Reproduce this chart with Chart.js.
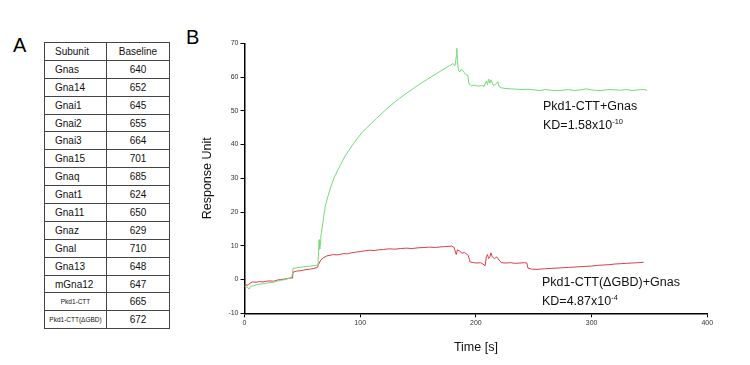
<!DOCTYPE html>
<html>
<head>
<meta charset="utf-8">
<script src="https://cdn.jsdelivr.net/npm/chart.js@4.4.1/dist/chart.umd.min.js"></script>
<style>
  html, body { margin:0; padding:0; background:#fff; }
  body { width:750px; height:365px; position:relative; overflow:hidden; font-family:"Liberation Sans", Arial, sans-serif; }
  #wrap { position:absolute; left:0; top:0; width:750px; height:365px; }
  .panel { position:absolute; font-size:20px; color:#000; }
  table { position:absolute; left:44px; top:42px; border-collapse:collapse; font-size:10px; color:#111; }
  td { border:1px solid #444; height:16.9px; padding:0; }
  td.s { width:51px; padding-left:10px; text-align:left; }
  td.v { width:62px; text-align:center; }
  td.sm { font-size:6.5px; text-align:center; padding-left:0; width:61px; }
  .ann { position:absolute; font-size:12.5px; color:#111; line-height:16px; white-space:nowrap; }
  .ann sup { font-size:7.5px; vertical-align:5px; }
</style>
</head>
<body>
<div class="panel" style="left:13px;top:34px;">A</div>
<div class="panel" style="left:186px;top:26px;">B</div>
<table id="tbl"></table>
<div id="wrap"><canvas id="c" width="750" height="365"></canvas></div>
<div class="ann" style="left:543px;top:98px;">Pkd1-CTT+Gnas<br>KD=1.58x10<sup>-10</sup></div>
<div class="ann" style="left:542px;top:274px;">Pkd1-CTT(ΔGBD)+Gnas<br>KD=4.87x10<sup>-4</sup></div>
<script>
const tableHeader = ["Subunit", "Baseline"];
const subunits = ["Gnas","Gna14","Gnai1","Gnai2","Gnai3","Gna15","Gnaq","Gnat1","Gna11","Gnaz","Gnal","Gna13","mGna12","Pkd1-CTT","Pkd1-CTT(ΔGBD)"];
const baselines = [640,652,645,655,664,701,685,624,650,629,710,648,647,665,672];

const xTicks = [0,100,200,300,400];
const yTicks = [-10,0,10,20,30,40,50,60,70];

const greenTime = [0,2,4,5,8,11,14,17,20,23,26,29,32,35,38,40,41,42,45,48,51,54,57,60,62,63.5,64,64.5,65,65.5,66,67,68,69,70,72,74,77,80,83,86,90,94,98,102,106,110,114,118,122,126,130,134,138,142,146,150,154,158,162,166,170,174,178,180,182,183,183.5,184,185,186,187,189,191,193,194,196,199,202,205,207,209,210,211,212,213,215,217,219,220,222,226,230,235,240,245,250,255,260,265,270,275,280,285,290,295,300,305,310,315,320,325,330,335,340,345,348];
const greenValues = [-2.0,-2.2,-2.8,-2.0,-1.8,-1.5,-1.3,-1.2,-1.0,-0.9,-0.7,-0.4,-0.2,0.0,0.3,0.5,0.8,3.3,3.5,3.6,3.8,3.9,4.0,4.1,4.2,4.4,8.0,11.8,9.0,11.0,13.0,15.0,17.5,20.0,22.0,24.5,26.8,29.8,32.0,34.0,36.0,38.2,40.2,42.0,43.7,45.1,46.4,47.7,49.0,50.3,51.5,52.6,53.7,54.7,55.7,56.6,57.6,58.5,59.3,60.2,61.0,61.9,62.7,63.5,64.0,63.4,66.0,68.5,65.0,62.0,61.5,62.2,61.8,60.8,60.5,58.0,57.4,57.6,57.3,57.5,57.2,58.8,57.8,59.4,58.2,59.2,57.6,57.8,58.6,57.2,56.8,56.6,56.5,56.4,56.3,56.4,56.2,56.0,56.3,56.1,56.0,56.1,56.3,56.0,56.2,56.5,56.2,56.0,56.1,56.3,56.2,56.1,56.3,56.0,56.2,56.3,56.1];

const redTime = [0,3,5,7,10,13,16,19,22,25,28,31,34,37,40,41.5,42,45,48,51,54,57,60,63,64,66,68,71,74,77,80,83,86,89,92,96,100,104,108,112,116,120,125,130,135,140,145,150,155,160,165,170,175,179,181,183,184,186,188,190,192,193.5,195,198,201,204,206,208,209,210,211,212,213,214,216,218,220,222,226,230,234,238,242,244,245,248,252,256,260,265,270,275,280,285,290,295,300,305,310,315,320,325,330,335,340,345];
const redValues = [-1.5,-1.7,-1.0,-0.7,-0.8,-0.6,-0.7,-0.5,-0.4,-0.5,-0.2,0.0,0.1,0.3,0.5,0.4,2.2,2.5,2.6,2.8,3.0,3.1,3.3,3.6,4.5,5.8,6.4,7.0,7.2,7.4,7.3,7.5,7.7,7.6,7.9,8.1,8.3,8.5,8.7,8.6,8.8,8.9,9.1,9.0,9.2,9.3,9.2,9.4,9.5,9.6,9.5,9.7,9.8,9.9,9.6,7.4,8.8,8.4,7.8,8.0,7.6,7.0,5.2,5.0,4.9,5.0,4.6,4.1,6.8,7.4,6.2,6.6,7.9,6.8,6.2,6.7,5.8,5.0,4.9,5.0,4.8,4.9,5.0,4.9,3.4,3.1,3.0,3.1,3.2,3.3,3.4,3.5,3.6,3.7,3.8,3.9,4.0,4.2,4.3,4.4,4.6,4.7,4.8,4.9,5.0,5.1];

// table
const tbl = document.getElementById('tbl');
let html = '<tr><td class="s">' + tableHeader[0] + '</td><td class="v">' + tableHeader[1] + '</td></tr>';
subunits.forEach((s, i) => {
  const cls = s.startsWith('Pkd1') ? 's sm' : 's';
  html += '<tr><td class="' + cls + '">' + s + '</td><td class="v">' + baselines[i] + '</td></tr>';
});
tbl.innerHTML = html;

const zip = (t, v) => t.map((x, i) => ({x: x, y: v[i]}));

new Chart(document.getElementById('c'), {
  type: 'line',
  data: {
    datasets: [
      { label: 'Pkd1-CTT+Gnas', data: zip(greenTime, greenValues), borderColor: 'rgb(118,216,118)', borderWidth: 1, pointRadius: 0, tension: 0, fill: false },
      { label: 'Pkd1-CTT(ΔGBD)+Gnas', data: zip(redTime, redValues), borderColor: 'rgb(218,62,72)', borderWidth: 1, pointRadius: 0, tension: 0, fill: false }
    ]
  },
  options: {
    responsive: false,
    animation: false,
    layout: { padding: { left: 190, right: 42.7, top: 43.3, bottom: 10 } },
    plugins: { legend: { display: false }, tooltip: { enabled: false } },
    scales: {
      x: {
        type: 'linear', min: 0, max: 400,
        afterBuildTicks: (s) => { s.ticks = xTicks.map(v => ({value: v})); },
        afterFit: (s) => { s.height = 41.7; },
        grid: { drawOnChartArea: false, drawTicks: true, tickLength: 4, color: '#000', lineWidth: 1 },
        border: { display: true, color: '#000', width: 1.5 },
        ticks: { font: { size: 7, family: 'Liberation Sans' }, color: '#333', padding: 2, maxRotation: 0 },
        title: { display: true, text: 'Time [s]', font: { size: 12.5, family: 'Liberation Sans' }, color: '#111', padding: { top: 7, bottom: 0 } }
      },
      y: {
        type: 'linear', min: -10, max: 70,
        afterBuildTicks: (s) => { s.ticks = yTicks.map(v => ({value: v})); },
        afterFit: (s) => { s.width = 54.5; },
        grid: { drawOnChartArea: false, drawTicks: true, tickLength: 4, color: '#000', lineWidth: 1 },
        border: { display: true, color: '#000', width: 1.5 },
        ticks: { font: { size: 7, family: 'Liberation Sans' }, color: '#333', padding: 2 },
        title: { display: true, text: 'Response Unit', font: { size: 12.5, family: 'Liberation Sans' }, color: '#111', padding: { top: 10, bottom: 0 } }
      }
    }
  }
});
</script>
</body>
</html>
